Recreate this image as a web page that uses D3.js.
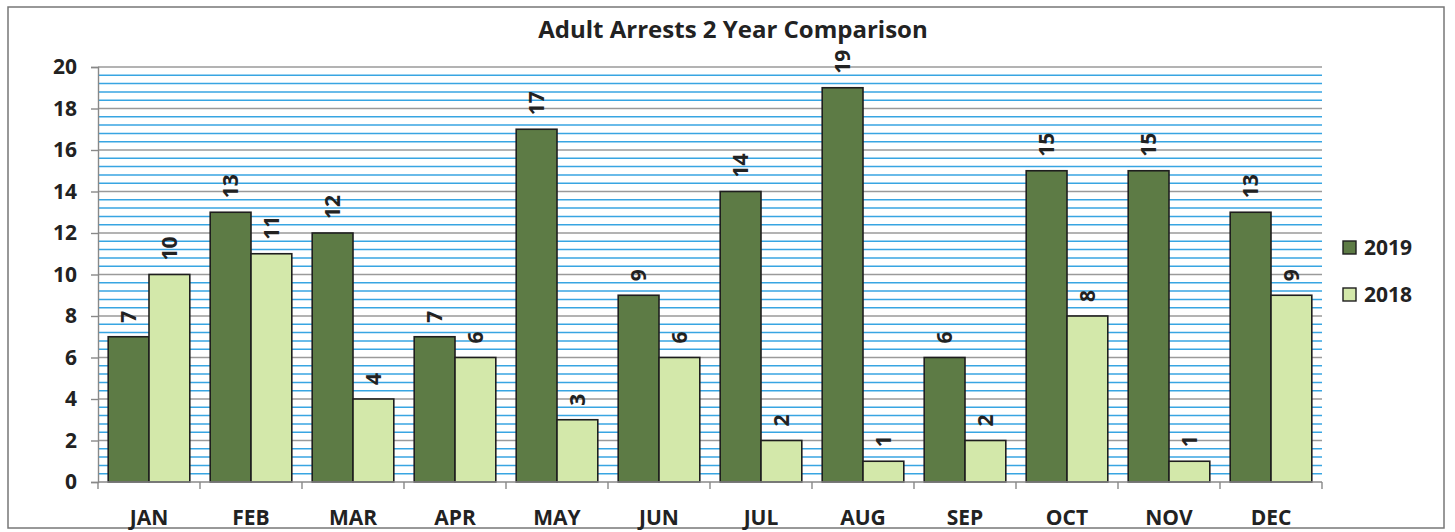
<!DOCTYPE html>
<html>
<head>
<meta charset="utf-8">
<script src="https://cdn.jsdelivr.net/npm/d3@7"></script>
<style>
  body { margin: 0; background: #fff; }
  text { font-family: "Open Sans", "Liberation Sans", sans-serif; font-weight: bold; fill: #222; }
</style>
</head>
<body>
<svg width="1455" height="532"></svg>
<script>
// data
var months = ["JAN", "FEB", "MAR", "APR", "MAY", "JUN", "JUL", "AUG", "SEP", "OCT", "NOV", "DEC"];
var years = ["2019", "2018"];
var arrests2019 = [7, 13, 12, 7, 17, 9, 14, 19, 6, 15, 15, 13];
var arrests2018 = [10, 11, 4, 6, 3, 6, 2, 1, 2, 8, 1, 9];
var yTicks = [0, 2, 4, 6, 8, 10, 12, 14, 16, 18, 20];

var colors = { "2019": "#5d7b45", "2018": "#d3e8aa" };

var svg = d3.select("svg");

// plot area
var pLeft = 98, pRight = 1322, pTop = 67, pBottom = 482;

// outer frame
svg.append("rect")
  .attr("x", 8).attr("y", 7)
  .attr("width", 1436).attr("height", 521)
  .attr("fill", "none")
  .attr("stroke", "#777")
  .attr("stroke-width", 1.5);

var x = d3.scaleBand().domain(months).range([pLeft, pRight]).paddingInner(0.2).paddingOuter(0.1);
var xs = d3.scaleBand().domain(years).range([0, x.bandwidth()]);
var y = d3.scaleLinear().domain([0, 20]).range([pBottom, pTop]);

// minor gridlines (blue) every 0.4, major (gray) every 2
var minor = d3.range(0, 50).map(function(i) { return i * 0.4; }).filter(function(v) {
  return Math.abs(v / 2 - Math.round(v / 2)) > 0.01;
});

svg.append("g").selectAll("line")
  .data(minor)
  .enter().append("line")
  .attr("x1", pLeft).attr("x2", pRight)
  .attr("y1", function(d) { return y(d); })
  .attr("y2", function(d) { return y(d); })
  .attr("stroke", "#38a5e2")
  .attr("stroke-width", 1.5);

svg.append("g").selectAll("line")
  .data(yTicks.filter(function(d) { return d > 0; }))
  .enter().append("line")
  .attr("x1", pLeft).attr("x2", pRight)
  .attr("y1", function(d) { return y(d); })
  .attr("y2", function(d) { return y(d); })
  .attr("stroke", "#9a9a9a")
  .attr("stroke-width", 1.4);

// y axis
var yAxis = svg.append("g")
  .attr("transform", "translate(" + pLeft + ",0)")
  .call(d3.axisLeft(y).tickValues(yTicks).tickSize(7).tickPadding(14));
yAxis.select(".domain").attr("stroke", "#888").attr("stroke-width", 1.4);
yAxis.selectAll(".tick line").attr("stroke", "#888").attr("stroke-width", 1.4);
yAxis.selectAll("text")
  .style("font-family", "'Open Sans', sans-serif")
  .style("font-weight", "bold")
  .style("font-size", "21px")
  .attr("fill", "#222");

// bars
var rows = months.map(function(m, i) {
  return { month: m, values: [
    { year: "2019", value: arrests2019[i] },
    { year: "2018", value: arrests2018[i] }
  ]};
});

var group = svg.append("g").selectAll("g")
  .data(rows)
  .enter().append("g")
  .attr("transform", function(d) { return "translate(" + x(d.month) + ",0)"; });

group.selectAll("rect")
  .data(function(d) { return d.values; })
  .enter().append("rect")
  .attr("x", function(d) { return xs(d.year); })
  .attr("y", function(d) { return y(d.value); })
  .attr("width", xs.bandwidth())
  .attr("height", function(d) { return y(0) - y(d.value); })
  .attr("fill", function(d) { return colors[d.year]; })
  .attr("stroke", "#1e1e1e")
  .attr("stroke-width", 1.6);

// value labels, rotated
group.selectAll("text")
  .data(function(d) { return d.values; })
  .enter().append("text")
  .attr("transform", function(d) {
    return "translate(" + (xs(d.year) + xs.bandwidth() / 2) + "," + (y(d.value) - 14) + ") rotate(-90)";
  })
  .attr("dy", "0.36em")
  .style("font-size", "21px")
  .text(function(d) { return d.value; });

// x axis
var xAxisLine = svg.append("g");
xAxisLine.append("line")
  .attr("x1", pLeft).attr("x2", pRight)
  .attr("y1", pBottom).attr("y2", pBottom)
  .attr("stroke", "#888").attr("stroke-width", 1.4);
var bounds = months.map(function(m) { return x(m) - x.step() * x.paddingInner() / 2; });
bounds.push(pRight);
xAxisLine.selectAll(".xt")
  .data(bounds)
  .enter().append("line")
  .attr("x1", function(d) { return d; }).attr("x2", function(d) { return d; })
  .attr("y1", pBottom).attr("y2", pBottom + 7)
  .attr("stroke", "#888").attr("stroke-width", 1.4);

svg.append("g").selectAll("text")
  .data(months)
  .enter().append("text")
  .attr("x", function(d) { return x(d) + x.bandwidth() / 2; })
  .attr("y", 525)
  .attr("text-anchor", "middle")
  .style("font-size", "21px")
  .text(function(d) { return d; });

// title
svg.append("text")
  .attr("x", 733).attr("y", 38)
  .attr("text-anchor", "middle")
  .style("font-size", "24px")
  .text("Adult Arrests 2 Year Comparison");

// legend
var legend = svg.append("g").selectAll("g")
  .data(years)
  .enter().append("g")
  .attr("transform", function(d, i) { return "translate(1343," + (241 + i * 47) + ")"; });
legend.append("rect")
  .attr("width", 13).attr("height", 13)
  .attr("fill", function(d) { return colors[d]; })
  .attr("stroke", "#1e1e1e").attr("stroke-width", 1.4);
legend.append("text")
  .attr("x", 21).attr("y", 14)
  .style("font-size", "21px")
  .text(function(d) { return d; });
</script>
</body>
</html>
